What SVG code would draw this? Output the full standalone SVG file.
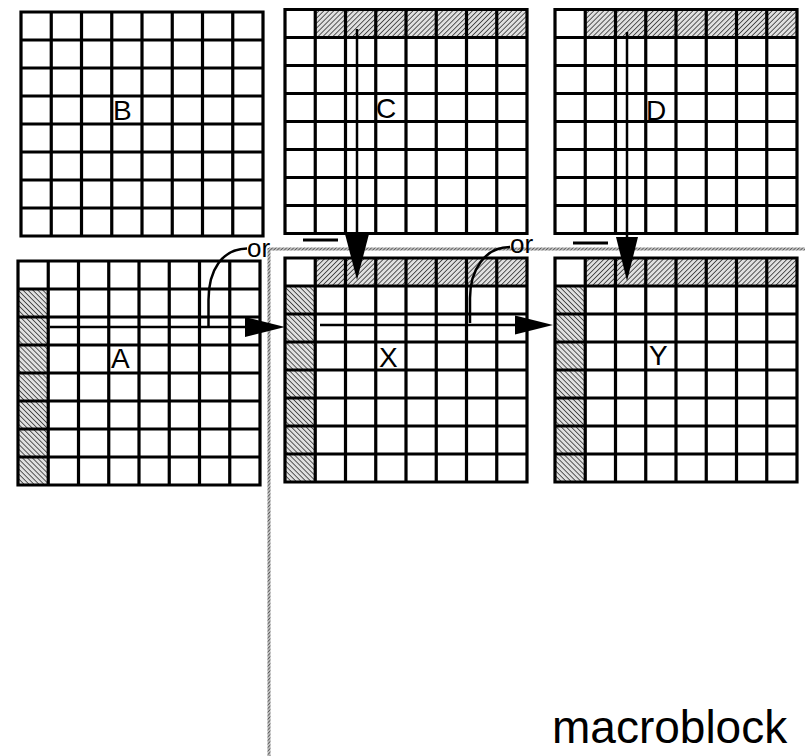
<svg xmlns="http://www.w3.org/2000/svg" xmlns:xlink="http://www.w3.org/1999/xlink" width="805" height="756" viewBox="0 0 805 756">
<style>
.gl{fill:none;stroke:#000;stroke-width:3.2}
.lbl{font-family:"Liberation Sans",Arial,sans-serif;font-size:28px;fill:#000}
.or{font-family:"Liberation Sans",Arial,sans-serif;font-size:26px;fill:#000}
.big{font-family:"Liberation Sans",Arial,sans-serif;font-size:46px;fill:#000}
.ln{fill:none;stroke:#000;stroke-width:2.5}
.bar{stroke:#000;stroke-width:3}
.ah{fill:#000}
</style>
<defs>
<pattern id="hf" patternUnits="userSpaceOnUse" width="3.5" height="3.5" patternTransform="rotate(45)">
<rect width="3.5" height="3.5" fill="#e0e0e0"/>
<line x1="0" y1="0" x2="0" y2="3.5" stroke="#333" stroke-width="1.6"/>
</pattern>
<pattern id="hb" patternUnits="userSpaceOnUse" width="3.5" height="3.5" patternTransform="rotate(-45)">
<rect width="3.5" height="3.5" fill="#e0e0e0"/>
<line x1="0" y1="0" x2="0" y2="3.5" stroke="#333" stroke-width="1.6"/>
</pattern>
<pattern id="hd" patternUnits="userSpaceOnUse" width="2.5" height="2.5" patternTransform="rotate(45)">
<rect width="2.5" height="2.5" fill="#bbb"/>
<line x1="0" y1="0" x2="0" y2="2.5" stroke="#333" stroke-width="1.2"/>
</pattern>
<path id="grid" class="gl" d="M0,0H242V224H0Z M30.25,0V224 M60.5,0V224 M90.75,0V224 M121,0V224 M151.25,0V224 M181.5,0V224 M211.75,0V224 M0,28H242 M0,56H242 M0,84H242 M0,112H242 M0,140H242 M0,168H242 M0,196H242"/>
<rect id="top" x="30.25" y="0" width="211.75" height="28" fill="url(#hf)"/>
<rect id="left" x="0" y="28" width="30.25" height="196" fill="url(#hb)"/>
</defs>
<rect width="805" height="756" fill="#fff"/>
<g id="boundary">
<rect x="269" y="247.5" width="536" height="3" fill="url(#hd)"/>
<rect x="267.5" y="248" width="3" height="508" fill="url(#hd)"/>
</g>
<g id="B" transform="translate(21,12)">
<rect width="242" height="224" fill="#fff"/>
<use xlink:href="#grid"/>
<text class="lbl" x="92" y="108">B</text>
</g>
<g id="C" transform="translate(285,9.5)">
<rect width="242" height="224" fill="#fff"/>
<use xlink:href="#top"/>
<use xlink:href="#grid"/>
<text class="lbl" x="91" y="108.5">C</text>
</g>
<g id="D" transform="translate(555,9.5)">
<rect width="242" height="224" fill="#fff"/>
<use xlink:href="#top"/>
<use xlink:href="#grid"/>
<text class="lbl" x="91" y="110.5">D</text>
</g>
<g id="A" transform="translate(18,261)">
<rect width="242" height="224" fill="#fff"/>
<use xlink:href="#left"/>
<use xlink:href="#grid"/>
<text class="lbl" x="93" y="107">A</text>
</g>
<g id="X" transform="translate(285,258)">
<rect width="242" height="224" fill="#fff"/>
<use xlink:href="#top"/>
<use xlink:href="#left"/>
<use xlink:href="#grid"/>
<text class="lbl" x="94" y="109">X</text>
</g>
<g id="Y" transform="translate(555,258)">
<rect width="242" height="224" fill="#fff"/>
<use xlink:href="#top"/>
<use xlink:href="#left"/>
<use xlink:href="#grid"/>
<text class="lbl" x="94" y="107">Y</text>
</g>
<g id="connectors">
<line class="ln" x1="50" y1="327" x2="248" y2="327"/>
<polygon class="ah" points="245,317 285,327 245,337"/>
<path class="ln" d="M208.5,327 V300 C208.5,270 222,249 247,248.5"/>
<line class="ln" x1="320" y1="325" x2="517" y2="325"/>
<polygon class="ah" points="515,315.5 553,325 515,334.5"/>
<path class="ln" d="M470,323 V298 C470,270 485,247 510,247"/>
<line class="ln" x1="357" y1="29" x2="357" y2="240"/>
<polygon class="ah" points="345,234 369,234 357,280"/>
<line class="ln" x1="627" y1="32" x2="627" y2="240"/>
<polygon class="ah" points="616,237 638,237 627,281"/>
<line class="bar" x1="303" y1="240" x2="338" y2="240"/>
<line class="bar" x1="573" y1="243" x2="608" y2="243"/>
<text class="or" x="247" y="257">or</text>
<text class="or" x="510" y="253">or</text>
</g>
<text class="big" x="552" y="743">macroblock</text>
</svg>
